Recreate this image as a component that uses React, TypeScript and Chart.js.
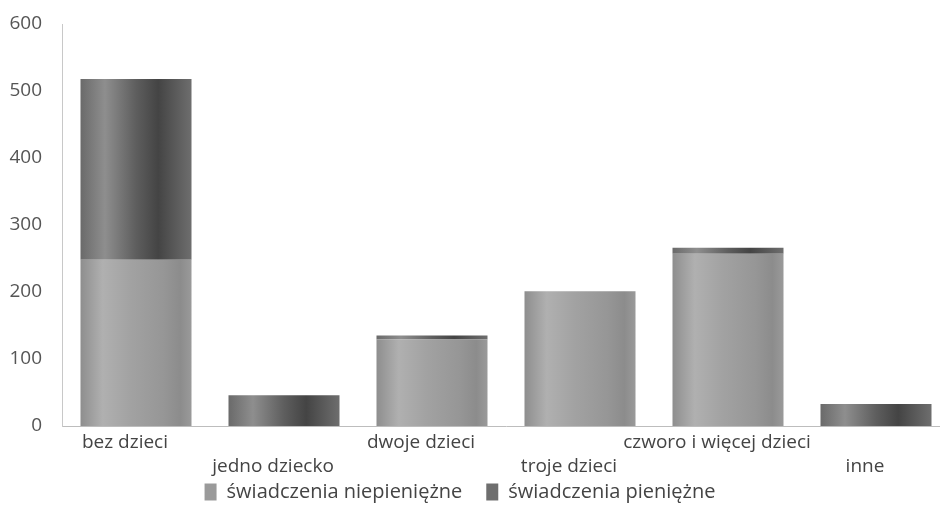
import React, { useEffect, useRef } from "react";
import { Chart, registerables } from "chart.js";

Chart.register(...registerables);

const categories = [
  "bez dzieci",
  "jedno dziecko",
  "dwoje dzieci",
  "troje dzieci",
  "czworo i więcej dzieci",
  "inne",
];
const niepieniezne = [248, 0, 129, 201, 257, 0];
const pieniezne = [270, 46, 6, 0, 9, 33];
const seriesNames = ["świadczenia niepieniężne", "świadczenia pieniężne"];
const yTicks = [0, 100, 200, 300, 400, 500, 600];

const lightStops: [number, string][] = [
  [0, "#8e8e8e"],
  [0.2, "#b0b0b0"],
  [0.45, "#a2a2a2"],
  [0.75, "#969696"],
  [0.9, "#8c8c8c"],
  [1, "#9a9a9a"],
];
const darkStops: [number, string][] = [
  [0, "#6a6a6a"],
  [0.22, "#8e8e8e"],
  [0.5, "#5e5e5e"],
  [0.7, "#444444"],
  [1, "#6e6e6e"],
];

const BAR_PCT = 0.75;

function gradientFill(stops: [number, string][], solid: string) {
  return (c: any) => {
    const chart = c.chart;
    const xs = chart.scales && chart.scales.x;
    if (c.type !== "data" || !xs || !chart.chartArea) return solid;
    const cx = xs.getPixelForValue(c.dataIndex);
    const hw = (xs.width / categories.length) * BAR_PCT / 2;
    const g = chart.ctx.createLinearGradient(cx - hw, 0, cx + hw, 0);
    stops.forEach(([o, col]) => g.addColorStop(o, col));
    return g;
  };
}

const legendShift = {
  id: "legendShift",
  afterLayout(chart: any) {
    const l = chart.legend;
    if (l) {
      l.left -= 15;
      l.right -= 15;
      l.top -= 22;
      l.bottom -= 22;
    }
  },
};

export default function App() {
  const ref = useRef<HTMLCanvasElement>(null);
  useEffect(() => {
    if (!ref.current) return;
    const family = "'Open Sans', sans-serif";
    const chart = new Chart(ref.current, {
      type: "bar",
      data: {
        labels: categories.map((c, i) => (i % 2 ? ["", c] : [c])),
        datasets: [
          {
            label: seriesNames[0],
            data: niepieniezne,
            backgroundColor: gradientFill(lightStops, "#a2a2a2"),
            borderWidth: 0,
            barPercentage: BAR_PCT,
            categoryPercentage: 1,
          },
          {
            label: seriesNames[1],
            data: pieniezne,
            backgroundColor: gradientFill(darkStops, "#575757"),
            borderWidth: 0,
            barPercentage: BAR_PCT,
            categoryPercentage: 1,
          },
        ],
      },
      plugins: [legendShift],
      options: {
        animation: false,
        responsive: true,
        maintainAspectRatio: false,
        layout: { padding: { top: 24, left: 0, right: 0, bottom: -12 } },
        plugins: {
          legend: {
            position: "bottom",
            labels: {
              font: { family, size: 20 },
              color: "#444",
              boxWidth: 12,
              boxHeight: 17,
              padding: 24,
            },
          },
          tooltip: { enabled: false },
        },
        scales: {
          x: {
            stacked: true,
            grid: { display: false, drawTicks: false },
            border: { display: true, color: "#bdbdbd", width: 1 },
            ticks: {
              font: { family, size: 19, lineHeight: 1.3 },
              color: "#444",
              padding: 4,
              labelOffset: -11,
              maxRotation: 0,
              autoSkip: false,
            },
            afterFit: (s: any) => {
              s.height = 54;
            },
          },
          y: {
            stacked: true,
            min: 0,
            max: 600,
            afterBuildTicks: (s: any) => {
              s.ticks = yTicks.map((v) => ({ value: v }));
            },
            grid: { display: false, drawTicks: true, tickLength: 20 },
            border: { display: true, color: "#c8c8c8", width: 1, dash: [1, 1] },
            ticks: {
              font: { family, size: 19 },
              color: "#555",
              padding: 0,
            },
            afterFit: (s: any) => {
              s.width = 62;
            },
          },
        },
      },
    });
    return () => chart.destroy();
  }, []);
  return (
    <div
      style={{
        position: "fixed",
        left: 0,
        top: 0,
        width: 940,
        height: 522,
        overflow: "hidden",
        background: "#fff",
      }}
    >
      <div style={{ position: "relative", width: 950, height: 522 }}>
        <canvas ref={ref} />
      </div>
    </div>
  );
}
